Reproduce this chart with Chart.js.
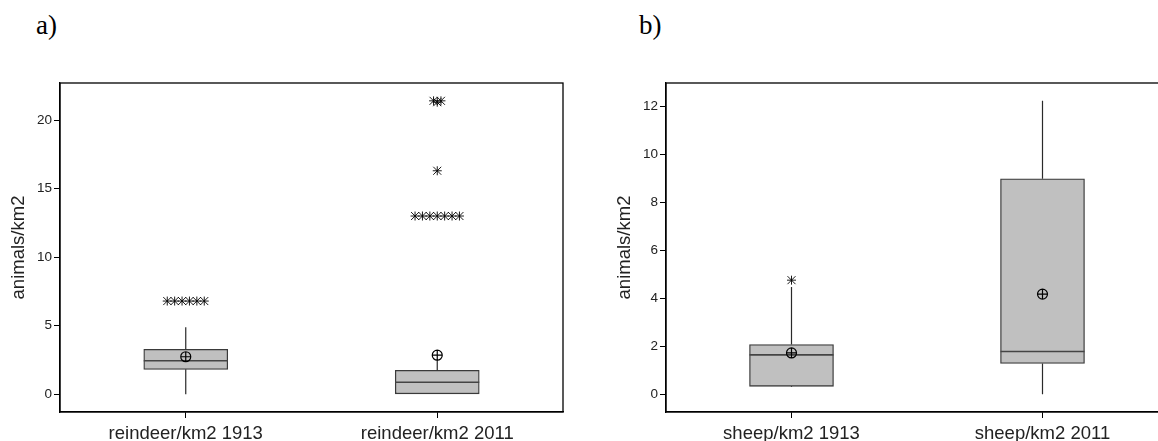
<!DOCTYPE html>
<html>
<head>
<meta charset="utf-8">
<script src="https://cdn.jsdelivr.net/npm/chart.js@4.4.1/dist/chart.umd.min.js"></script>
<style>
html, body { margin:0; padding:0; width:1158px; height:441px; overflow:hidden; background:#fff; }
.panel { position:absolute; top:0; height:460px; }
#wrapA { left:0; width:580px; }
#wrapB { left:580px; width:600px; }
.tag { position:absolute; top:10px; font-family:"Liberation Serif", serif; font-size:27px; color:#000; }
</style>
</head>
<body>
<div class="tag" style="left:36px;">a)</div>
<div class="tag" style="left:639px;">b)</div>
<div class="panel" id="wrapA"><canvas id="graphA"></canvas></div>
<div class="panel" id="wrapB"><canvas id="graphB"></canvas></div>

<script>
// panel a) reindeer
const reindeerLabels   = ["reindeer/km2 1913", "reindeer/km2 2011"];
const reindeerQ1       = [1.82, 0.00];
const reindeerMedian   = [2.45, 0.88];
const reindeerQ3       = [3.28, 1.75];
const reindeerLow      = [0.00, 0.00];
const reindeerHigh     = [4.89, 2.50];
const reindeerMean     = [2.74, 2.85];
const reindeerOutliers = [
    [6.8, 6.8, 6.8, 6.8, 6.8, 6.8],
    [13.0, 13.0, 13.0, 13.0, 13.0, 13.0, 13.0, 16.3, 21.4, 21.4, 21.3]
];
const reindeerTicks    = [0, 5, 10, 15, 20];

// panel b) sheep
const sheepLabels   = ["sheep/km2 1913", "sheep/km2 2011"];
const sheepQ1       = [0.33, 1.28];
const sheepMedian   = [1.64, 1.78];
const sheepQ3       = [2.07, 8.97];
const sheepLow      = [0.30, 0.00];
const sheepHigh     = [4.47, 12.22];
const sheepMean     = [1.72, 4.17];
const sheepOutliers = [[4.75], []];
const sheepTicks    = [0, 2, 4, 6, 8, 10, 12];

// draws whiskers, median, mean and outliers on top of the box bars
const boxExtras = {
    id: "boxExtras",
    afterDatasetsDraw(chart) {
        const ctx = chart.ctx;
        const area = chart.chartArea;
        const y = chart.scales.y;
        const st = chart.data.datasets[0].stats;
        const bars = chart.getDatasetMeta(0).data;

        ctx.save();
        bars.forEach((bar, i) => {
            const cx = bar.x;
            const half = bar.width / 2;

            // whiskers
            ctx.strokeStyle = "#2a2a2a";
            ctx.lineWidth = 1.2;
            ctx.beginPath();
            ctx.moveTo(cx, y.getPixelForValue(st.q3[i]));
            ctx.lineTo(cx, y.getPixelForValue(st.high[i]));
            ctx.moveTo(cx, y.getPixelForValue(st.q1[i]));
            ctx.lineTo(cx, y.getPixelForValue(st.low[i]));
            ctx.stroke();

            // median
            ctx.strokeStyle = "#444";
            ctx.lineWidth = 1.6;
            ctx.beginPath();
            const my = y.getPixelForValue(st.median[i]);
            ctx.moveTo(cx - half, my);
            ctx.lineTo(cx + half, my);
            ctx.stroke();

            // mean: circled plus
            const mY = y.getPixelForValue(st.mean[i]);
            ctx.strokeStyle = "#000";
            ctx.lineWidth = 1.2;
            ctx.beginPath();
            ctx.arc(cx, mY, 5, 0, Math.PI * 2);
            ctx.moveTo(cx - 5, mY);
            ctx.lineTo(cx + 5, mY);
            ctx.moveTo(cx, mY - 5);
            ctx.lineTo(cx, mY + 5);
            ctx.stroke();

            // outliers, tied values side by side
            const groups = {};
            for (let v of st.outliers[i]) {
                groups[v] = (groups[v] || 0) + 1;
            }
            ctx.lineWidth = 0.9;
            for (let key in groups) {
                const n = groups[key];
                const oy = y.getPixelForValue(Number(key));
                for (let k = 0; k < n; k++) {
                    const ox = cx + (k - (n - 1) / 2) * 7.4;
                    ctx.beginPath();
                    // horizontal, two diagonals and a short vertical
                    ctx.moveTo(ox - 4.5, oy);
                    ctx.lineTo(ox + 4.5, oy);
                    ctx.moveTo(ox - 4, oy - 4);
                    ctx.lineTo(ox + 4, oy + 4);
                    ctx.moveTo(ox - 4, oy + 4);
                    ctx.lineTo(ox + 4, oy - 4);
                    ctx.moveTo(ox, oy - 4.5);
                    ctx.lineTo(ox, oy + 4.5);
                    ctx.stroke();
                }
            }
        });

        // frame round the plot
        ctx.strokeStyle = "#000";
        ctx.lineWidth = 1.3;
        ctx.strokeRect(area.left, area.top, area.right - area.left, area.bottom - area.top);
        ctx.restore();
    }
};

function draw_box(id, labels, q1, median, q3, low, high, mean, outliers, ticks, yMin, yMax, padLeft, padRight){

    const ctx = document.getElementById(id).getContext("2d");
    const myChart = new Chart(ctx, {
        type: "bar",
        data: {
            labels: labels,
            datasets: [{
                data: q1.map((v, i) => [v, q3[i]]),
                backgroundColor: "#c0c0c0",
                borderColor: "#3a3a3a",
                borderWidth: 1.3,
                borderSkipped: false,
                barThickness: 84,
                stats: { q1: q1, q3: q3, median: median, low: low, high: high, mean: mean, outliers: outliers },
            }]
        },
        options: {
            responsive: true,
            maintainAspectRatio: false,
            animation: false,
            layout: { padding: { top: 83, left: padLeft, right: padRight, bottom: 0 } },
            plugins: {
                legend: { display: false },
                tooltip: { enabled: false },
            },
            scales: {
                x: {
                    offset: true,
                    grid: { offset: false, drawOnChartArea: false, tickLength: 6, color: "#000" },
                    border: { color: "#000", width: 1.3 },
                    ticks: { color: "#222", font: { family: "Liberation Sans", size: 18.5 }, padding: 5, maxRotation: 0 },
                    afterFit: (s) => { s.height = 48; },
                },
                y: {
                    min: yMin,
                    max: yMax,
                    afterBuildTicks: (s) => { s.ticks = ticks.map(v => ({ value: v })); },
                    afterFit: (s) => { s.width = 60; },
                    grid: { drawOnChartArea: false, tickLength: 6, color: "#000" },
                    border: { color: "#000", width: 1.3 },
                    ticks: { color: "#222", font: { family: "Liberation Sans", size: 13.5 }, padding: 2 },
                    title: {
                        display: true,
                        text: "animals/km2",
                        color: "#222",
                        font: { family: "Liberation Sans", size: 18.5 },
                        padding: { top: 8, bottom: 0 },
                    },
                }
            }
        },
        plugins: [boxExtras]
    });
}

draw_box("graphA", reindeerLabels, reindeerQ1, reindeerMedian, reindeerQ3, reindeerLow, reindeerHigh,
         reindeerMean, reindeerOutliers, reindeerTicks, -1.29, 22.7, 0, 17);
draw_box("graphB", sheepLabels, sheepQ1, sheepMedian, sheepQ3, sheepLow, sheepHigh,
         sheepMean, sheepOutliers, sheepTicks, -0.74, 12.96, 26, 12);
</script>
</body>
</html>
